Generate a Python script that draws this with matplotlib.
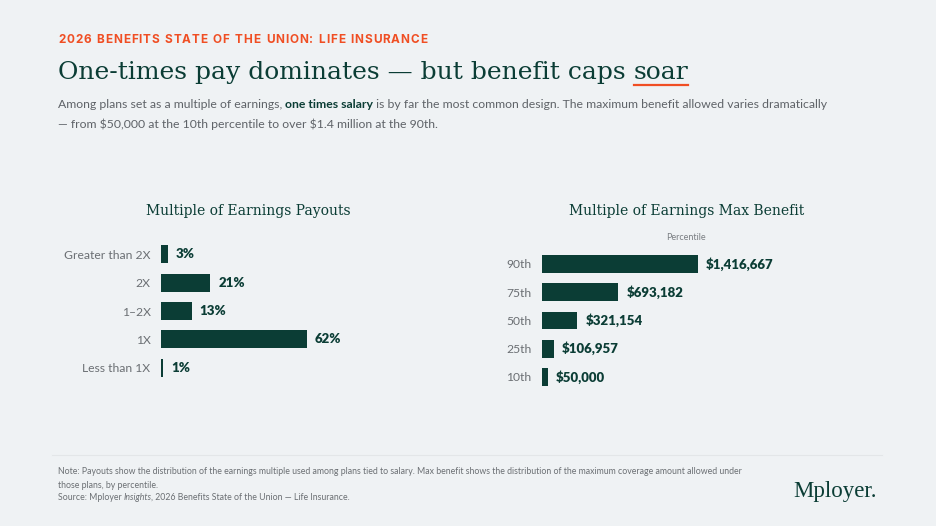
import matplotlib
matplotlib.use("Agg")
import matplotlib.pyplot as plt

# data
payout_labels = ["Greater than 2X", "2X", "1–2X", "1X", "Less than 1X"]
payout_pct = [3, 21, 13, 62, 1]

pct_labels = ["90th", "75th", "50th", "25th", "10th"]
max_benefit = [1416667, 693182, 321154, 106957, 50000]

# colours
BG = "#eff2f4"
GREEN = "#0b3d35"
ORANGE = "#f04e23"
GREY = "#5f6368"
LABEL_GREY = "#6b6f73"

W, H = 936, 526
fig = plt.figure(figsize=(W / 100, H / 100), dpi=100, facecolor=BG)
renderer = fig.canvas.get_renderer()


def fx(x):
    return x / W


def fy(y):
    return 1 - y / H


def runs(x, y, parts, size, family):
    # draw text pieces one after another on one line
    for s, style in parts:
        t = fig.text(fx(x), fy(y), s, fontsize=size, va="center", family=family, **style)
        x += t.get_window_extent(renderer).width
    return x


sans = "Lato"
serif = "DejaVu Serif"

# header, letter spaced
x = 58
for ch in "2026 BENEFITS STATE OF THE UNION: LIFE INSURANCE":
    if ch == " ":
        x += 4.5
        continue
    t = fig.text(fx(x), fy(40), ch, fontsize=8.5, fontweight="bold", color=ORANGE,
                 family="Inter", va="center")
    x += t.get_window_extent(renderer).width + 0.9

# title with underlined last word
t1 = fig.text(fx(58), fy(72), "One-times pay dominates — but benefit caps ",
              fontsize=18, color=GREEN, family=serif, va="center")
x_end = fx(58) + t1.get_window_extent(renderer).width / W
t2 = fig.text(x_end, fy(72), "soar", fontsize=18, color=GREEN, family=serif, va="center")
w2 = t2.get_window_extent(renderer).width / W
fig.add_artist(plt.Line2D([x_end, x_end + w2], [fy(85), fy(85)], color=ORANGE, lw=1.6))

# subtitle
runs(58, 104, [("Among plans set as a multiple of earnings, ", dict(color=GREY)),
               ("one times salary", dict(color=GREEN, fontweight="bold")),
               (" is by far the most common design. The maximum benefit allowed varies dramatically",
                dict(color=GREY))], 8.8, sans)
fig.text(fx(58), fy(124), "— from \\$50,000 at the 10th percentile to over \\$1.4 million at the 90th.",
         fontsize=8.8, color=GREY, family=sans, va="center")

# left chart: payouts
ax1 = fig.add_axes([fx(161), fy(382), 235.5 / W, 142 / H])
ypos = range(len(payout_labels))
ax1.barh(ypos, payout_pct, height=0.63, color=GREEN)
ax1.set_xlim(0, 100)
ax1.set_ylim(len(payout_labels) - 0.5, -0.5)
for i, v in enumerate(payout_pct):
    ax1.text(v + 3.4, i, f"{v}%", va="center", ha="left", fontsize=9.5,
             fontweight="heavy", color=GREEN, family=sans)
ax1.set_yticks(list(ypos))
ax1.set_yticklabels(payout_labels, fontsize=8.7, color=LABEL_GREY, family=sans)
ax1.tick_params(axis="y", length=0, pad=7.5)
ax1.set_xticks([])
for s in ax1.spines.values():
    s.set_visible(False)
ax1.set_facecolor("none")
fig.text(fx(248), fy(211), "Multiple of Earnings Payouts", fontsize=10, color=GREEN,
         family=serif, ha="center", va="center")

# right chart: max benefit by percentile
ax2 = fig.add_axes([fx(542), fy(391), 176.2 / W, 141.2 / H])
ypos = range(len(pct_labels))
ax2.barh(ypos, max_benefit, height=0.63, color=GREEN)
ax2.set_xlim(0, 1.6e6)
ax2.set_ylim(len(pct_labels) - 0.5, -0.5)
for i, v in enumerate(max_benefit):
    ax2.text(v + 72000, i, f"\\${v:,}", va="center", ha="left", fontsize=9.5,
             fontweight="heavy", color=GREEN, family=sans)
ax2.set_yticks(list(ypos))
ax2.set_yticklabels(pct_labels, fontsize=8.7, color=LABEL_GREY, family=sans)
ax2.tick_params(axis="y", length=0, pad=7.5)
ax2.set_xticks([])
for s in ax2.spines.values():
    s.set_visible(False)
ax2.set_facecolor("none")
fig.text(fx(687), fy(211), "Multiple of Earnings Max Benefit", fontsize=10, color=GREEN,
         family=serif, ha="center", va="center")
fig.text(fx(686), fy(237), "Percentile", fontsize=6.5, color="#7a7e82",
         family=sans, ha="center", va="center")

# footer
fig.add_artist(plt.Line2D([fx(52), fx(882)], [fy(455), fy(455)], color="#e3e6e8", lw=0.8))
foot = dict(fontsize=6.3, color=LABEL_GREY, family=sans, va="center")
fig.text(fx(58), fy(472), "Note: Payouts show the distribution of the earnings multiple used among plans "
         "tied to salary. Max benefit shows the distribution of the maximum coverage amount allowed under",
         **foot)
fig.text(fx(58), fy(485), "those plans, by percentile.", **foot)
x = 58
for s, st in [("Source: Mployer ", "normal"), ("Insights", "italic"),
              (", 2026 Benefits State of the Union — Life Insurance.", "normal")]:
    t = fig.text(fx(x), fy(497), s, fontstyle=st, **foot)
    x += t.get_window_extent(renderer).width - (1 if st == "italic" else 0)

fig.text(fx(877), fy(492), "Mployer.", fontsize=16.5, color=GREEN, family="Liberation Serif",
         ha="right", va="center")

fig.savefig("out.png", dpi=100, facecolor=BG)
